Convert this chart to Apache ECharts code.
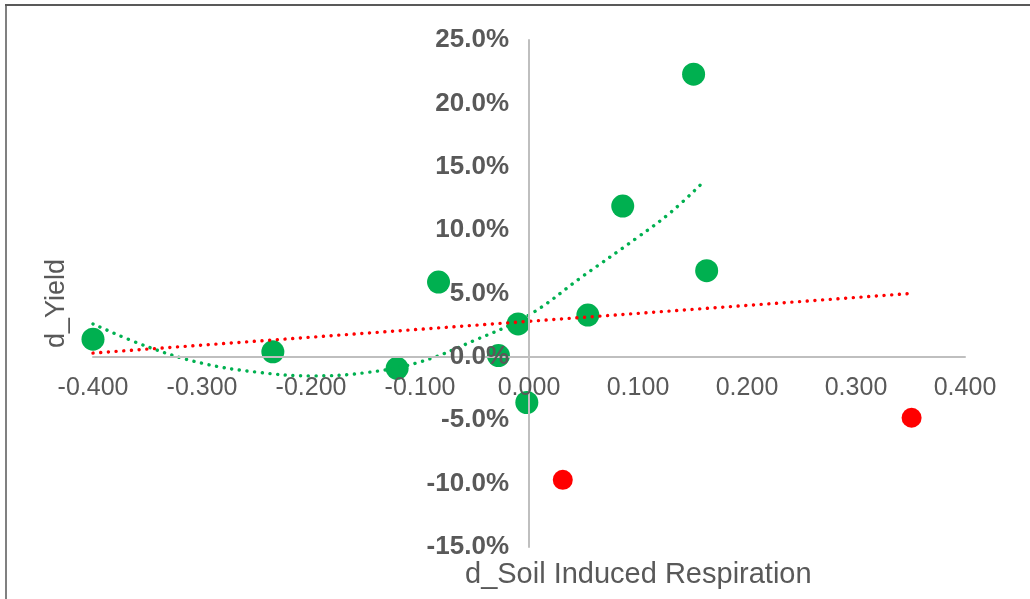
<!DOCTYPE html>
<html>
<head>
<meta charset="utf-8">
<script src="https://cdn.jsdelivr.net/npm/echarts@6/dist/echarts.min.js"></script>
<style>
html,body{margin:0;padding:0;background:#fff;}
#chart{width:1030px;height:599px;}
</style>
</head>
<body>
<div id="chart"></div>
<script>
// Data (x: d_Soil Induced Respiration, y: d_Yield in %)
const greenX = [-0.400, -0.235, -0.121, -0.083, -0.028, -0.010, -0.002, 0.054, 0.086, 0.151, 0.163];
const greenY = [1.4, 0.4, -0.9, 5.9, 0.1, 2.6, -3.6, 3.3, 11.9, 22.3, 6.8];
const redX = [0.031, 0.351];
const redY = [-9.7, -4.8];
// Trendlines
const greenTrendX = [-0.40, -0.35, -0.30, -0.25, -0.20, -0.15, -0.10, -0.05, 0.00, 0.05, 0.10, 0.13, 0.16];
const greenTrendY = [2.6, 0.8, -0.5, -1.2, -1.5, -1.25, -0.4, 1.3, 3.3, 6.4, 9.45, 11.4, 13.8];
const redTrendX = [-0.40, 0.35];
const redTrendY = [0.3, 5.0];

const xTitle = 'd_Soil Induced Respiration';
const yTitle = 'd_Yield';

const X_MIN = -0.4, X_MAX = 0.4, X_STEP = 0.1;
const Y_MIN = -15, Y_MAX = 25, Y_STEP = 5;

// grid geometry (pixels)
const G_LEFT = 93, G_RIGHT = 65, G_TOP = 40, G_BOTTOM = 52, W = 1030, H = 599;
const gW = W - G_LEFT - G_RIGHT, gH = H - G_TOP - G_BOTTOM;
// shift axes so they cross at the zero of the other axis
const yAxisOffset = -((0 - X_MIN) / (X_MAX - X_MIN)) * gW;
const xAxisOffset = -((0 - Y_MIN) / (Y_MAX - Y_MIN)) * gH;

const zip = (xs, ys) => xs.map((x, i) => [x, ys[i]]);
const dotted = (color) => ({ color: color, width: 3.4, type: [0.1, 7.6], cap: 'round', opacity: 1 });

const chart = echarts.init(document.getElementById('chart'));
chart.setOption({
  animation: false,
  backgroundColor: '#ffffff',
  grid: { left: G_LEFT, right: G_RIGHT, top: G_TOP, bottom: G_BOTTOM, containLabel: false, outerBoundsMode: 'none' },
  xAxis: {
    type: 'value', min: X_MIN, max: X_MAX, interval: X_STEP,
    position: 'bottom', offset: xAxisOffset,
    axisLine: { onZero: false, lineStyle: { color: '#bfbfbf', width: 2 } },
    axisTick: { show: false },
    splitLine: { show: false },
    axisLabel: {
      formatter: v => v.toFixed(3), color: '#595959',
      fontFamily: 'Liberation Sans, Arial, sans-serif', fontSize: 25, margin: 19,
      showMinLabel: true, showMaxLabel: true, hideOverlap: false
    },
    z: 10
  },
  yAxis: {
    type: 'value', min: Y_MIN, max: Y_MAX, interval: Y_STEP,
    position: 'left', offset: yAxisOffset,
    axisLine: { onZero: false, lineStyle: { color: '#bfbfbf', width: 2 } },
    axisTick: { show: false },
    splitLine: { show: false },
    axisLabel: {
      formatter: v => v.toFixed(1) + '%', color: '#595959', fontWeight: 'bold',
      fontFamily: 'Liberation Sans, Arial, sans-serif', fontSize: 26, margin: 20,
      showMinLabel: true, showMaxLabel: true, hideOverlap: false
    },
    z: 10
  },
  graphic: [
    { type: 'line', shape: { x1: 6, y1: 5, x2: 6, y2: 599 }, style: { stroke: '#808080', lineWidth: 2 } },
    { type: 'line', shape: { x1: 5, y1: 5, x2: 1030, y2: 5 }, style: { stroke: '#595959', lineWidth: 2 } },
    { type: 'text', left: 465, top: 560, style: { text: xTitle, fill: '#595959', font: '29px "Liberation Sans", Arial, sans-serif' } },
    { type: 'text', rotation: Math.PI / 2, x: 43, y: 348, style: { text: yTitle, fill: '#595959', font: '27px "Liberation Sans", Arial, sans-serif' } }
  ],
  series: [
    { type: 'scatter', data: zip(greenX, greenY), symbolSize: 23, itemStyle: { color: '#00B050', opacity: 1 }, z: 2 },
    { type: 'scatter', data: zip(redX, redY), symbolSize: 20, itemStyle: { color: '#FF0000', opacity: 1 }, z: 2 },
    { type: 'line', data: zip(greenTrendX, greenTrendY), smooth: 0.4, showSymbol: false, lineStyle: dotted('#00B050'), z: 3 },
    { type: 'line', data: zip(redTrendX, redTrendY), showSymbol: false, lineStyle: dotted('#FF0000'), z: 3 }
  ]
});
</script>
</body>
</html>
